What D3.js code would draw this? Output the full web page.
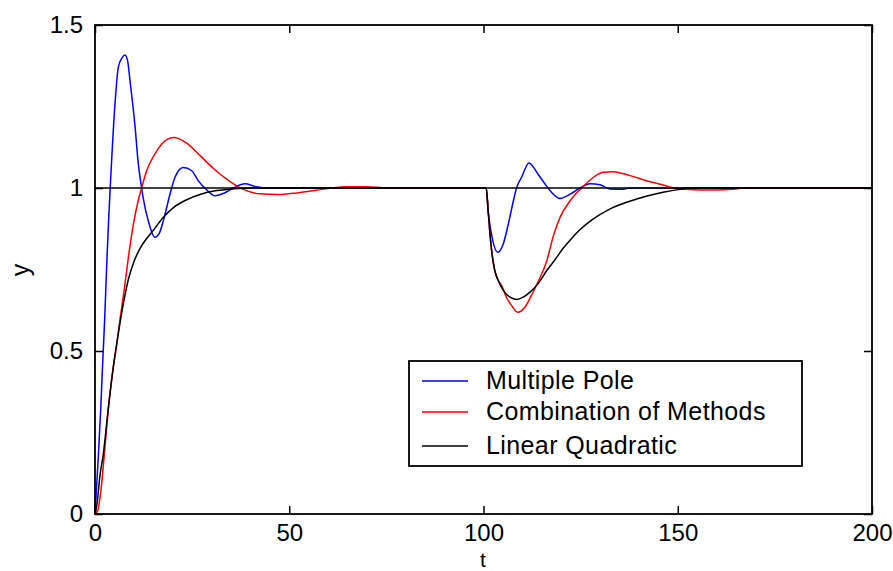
<!DOCTYPE html>
<html>
<head>
<meta charset="utf-8">
<script src="https://cdn.jsdelivr.net/npm/d3@7"></script>
<style>
  body { margin: 0; background: #fff; }
  text { font-family: "Liberation Sans", Arial, sans-serif; fill: #000; }
</style>
</head>
<body>
<div id="chart"></div>
<script>
// step response, disturbance at t = 100
const tPole = [0, 0.85, 1.5, 2.0, 2.5, 3.0, 3.5, 4.0, 5.1, 6.0, 7.0, 7.7, 8.4, 9.0, 10.3, 11.1, 12.0, 12.4, 13.7, 15.4, 16.5, 17.6, 19.3, 20.6, 22.7, 24.9, 26.6, 28.7, 30.9, 33.0, 35.6, 38.6, 41.2, 44, 100, 100.7, 101.2, 102.4, 103.7, 105.1, 106.4, 107.7, 108.5, 109.8, 111.7, 114, 115.8, 117.5, 119.7, 122.3, 124.8, 127.4, 130, 131.7, 133.5, 135.6, 137.5, 200];
const yPole = [0, 0.175, 0.33, 0.47, 0.6, 0.76, 0.9, 1.02, 1.25, 1.37, 1.40, 1.408, 1.39, 1.33, 1.19, 1.08, 1.0, 0.97, 0.9, 0.849, 0.86, 0.9, 0.981, 1.033, 1.063, 1.053, 1.022, 0.995, 0.976, 0.983, 1.0, 1.013, 1.005, 1.0, 1.0, 1.0, 0.93, 0.838, 0.803, 0.829, 0.89, 0.961, 1.0, 1.033, 1.077, 1.043, 1.013, 0.987, 0.968, 0.981, 1.0, 1.013, 1.01, 1.0, 0.996, 0.996, 1.0, 1.0];

const tComb = [0, 0.7, 1.5, 2.6, 3.4, 4.7, 5.6, 6.4, 7.5, 8.6, 9.9, 11.1, 12.0, 13.3, 15.4, 17.2, 20.2, 23.6, 27.0, 30.5, 33.9, 36.5, 39.0, 42.5, 47, 52, 57, 61, 65, 70, 75, 80, 100, 100.7, 101.2, 101.6, 102.2, 102.9, 103.8, 104.7, 105.9, 107.2, 108.8, 110.7, 112.3, 114.0, 116.3, 118.0, 119.7, 122.3, 125.3, 128.3, 130.8, 133.4, 137.7, 142.0, 146.3, 148.9, 152, 156, 160, 164, 167, 200];
const yComb = [0, 0.01, 0.07, 0.21, 0.32, 0.45, 0.52, 0.594, 0.686, 0.788, 0.89, 0.96, 1.0, 1.053, 1.104, 1.135, 1.155, 1.138, 1.1, 1.06, 1.027, 1.006, 0.992, 0.982, 0.98, 0.985, 0.993, 1.0, 1.004, 1.004, 1.0, 1.0, 1.0, 1.0, 0.93, 0.869, 0.797, 0.747, 0.716, 0.70, 0.665, 0.64, 0.619, 0.635, 0.67, 0.711, 0.777, 0.854, 0.91, 0.961, 1.0, 1.033, 1.048, 1.05, 1.038, 1.022, 1.009, 1.0, 0.996, 0.994, 0.994, 0.996, 1.0, 1.0];

const tLQ = [0, 0.5, 1.3, 2.1, 3.3, 4.7, 6.0, 7.3, 8.6, 9.9, 11.6, 13.3, 15.0, 17.6, 20.2, 23.6, 27.0, 31.3, 36, 40, 100, 100.7, 101.2, 101.6, 102.2, 102.9, 103.8, 105.1, 106.8, 108.5, 110.2, 111.9, 114.0, 116.3, 118.4, 120.5, 122.5, 125, 128, 132.6, 139.4, 146.2, 150, 154, 200];
const yLQ = [0, 0.03, 0.12, 0.18, 0.31, 0.45, 0.553, 0.645, 0.72, 0.77, 0.815, 0.845, 0.87, 0.91, 0.94, 0.964, 0.98, 0.992, 0.998, 1.0, 1.0, 1.0, 0.93, 0.869, 0.797, 0.747, 0.716, 0.686, 0.665, 0.658, 0.665, 0.68, 0.706, 0.747, 0.78, 0.815, 0.843, 0.874, 0.903, 0.936, 0.966, 0.987, 0.995, 1.0, 1.0];

const tSet = [0, 200];
const ySet = [1, 1];

const seriesNames = ["Multiple Pole", "Combination of Methods", "Linear Quadratic"];
const seriesColors = ["#0000ff", "#ff0000", "#000000"];
const xTicks = [0, 50, 100, 150, 200];
const yTicks = [0, 0.5, 1, 1.5];

const width = 893, height = 571;
const plotL = 95, plotR = 872, plotT = 25, plotB = 514;

const svg = d3.select("#chart")
  .append("svg")
  .attr("width", width)
  .attr("height", height);

svg.append("rect").attr("width", width).attr("height", height).attr("fill", "#fff");

const x = d3.scaleLinear().domain([0, 200]).range([plotL, plotR]);
const y = d3.scaleLinear().domain([0, 1.5]).range([plotB, plotT]);

const line = d3.line()
  .x(function(d) { return x(d[0]); })
  .y(function(d) { return y(d[1]); })
  .curve(d3.curveMonotoneX);

const series = [
  d3.zip(tPole, yPole),
  d3.zip(tComb, yComb),
  d3.zip(tLQ, yLQ)
];

series.forEach(function(s, i) {
  svg.append("path")
    .datum(s)
    .attr("d", line)
    .attr("fill", "none")
    .attr("stroke", seriesColors[i])
    .attr("stroke-width", 1.5);
});

// setpoint line sits on top
svg.append("path")
  .datum(d3.zip(tSet, ySet))
  .attr("d", d3.line().x(function(d) { return x(d[0]); }).y(function(d) { return y(d[1]); }))
  .attr("stroke", "#000")
  .attr("stroke-width", 1.6);

// axes, ticks pointing in, box all round
const tickLen = 8;
const fontSize = 24;

const ax = svg.append("g");

ax.append("g")
  .attr("transform", "translate(0," + plotB + ")")
  .call(d3.axisBottom(x).tickValues(xTicks).tickSize(-tickLen).tickPadding(10).tickFormat(d3.format("d")));
ax.append("g")
  .attr("transform", "translate(0," + plotT + ")")
  .call(d3.axisTop(x).tickValues(xTicks).tickSize(-tickLen).tickFormat(""));
ax.append("g")
  .attr("transform", "translate(" + plotL + ",0)")
  .call(d3.axisLeft(y).tickValues(yTicks).tickSize(-tickLen).tickPadding(12).tickFormat(function(d) { return String(d); }));
ax.append("g")
  .attr("transform", "translate(" + plotR + ",0)")
  .call(d3.axisRight(y).tickValues(yTicks).tickSize(-tickLen).tickFormat(""));

ax.selectAll("g")
  .attr("font-size", fontSize)
  .attr("font-family", "Liberation Sans, Arial, sans-serif");
ax.selectAll(".domain").remove();
ax.selectAll(".tick line").attr("stroke", "#000").attr("stroke-width", 1.5);
ax.selectAll("text").attr("fill", "#000");

svg.append("rect")
  .attr("x", plotL)
  .attr("y", plotT)
  .attr("width", plotR - plotL)
  .attr("height", plotB - plotT)
  .attr("fill", "none")
  .attr("stroke", "#000")
  .attr("stroke-width", 1.8);

svg.append("text")
  .attr("x", 483)
  .attr("y", 566.5)
  .attr("text-anchor", "middle")
  .attr("font-size", 21)
  .text("t");

svg.append("text")
  .attr("transform", "translate(29,270) rotate(-90)")
  .attr("text-anchor", "middle")
  .attr("font-size", 25)
  .text("y");

// legend
const legend = svg.append("g");
legend.append("rect")
  .attr("x", 409)
  .attr("y", 361)
  .attr("width", 393)
  .attr("height", 105)
  .attr("fill", "#fff")
  .attr("stroke", "#000")
  .attr("stroke-width", 1.8);

const rowY = [381, 412, 446];
seriesNames.forEach(function(name, i) {
  legend.append("line")
    .attr("x1", 422).attr("x2", 468)
    .attr("y1", rowY[i]).attr("y2", rowY[i])
    .attr("stroke", seriesColors[i])
    .attr("stroke-width", 1.5);
  legend.append("text")
    .attr("x", 486)
    .attr("y", rowY[i] + 8)
    .attr("font-size", 25)
    .attr("letter-spacing", 0.4)
    .text(name);
});
</script>
</body>
</html>
